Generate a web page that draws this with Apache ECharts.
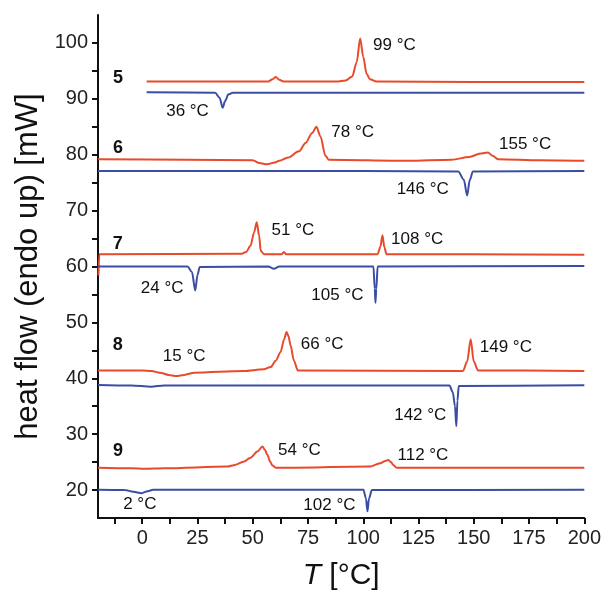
<!DOCTYPE html>
<html>
<head>
<meta charset="utf-8">
<script src="https://cdn.jsdelivr.net/npm/echarts@6/dist/echarts.min.js"></script>
<style>
  html, body { margin: 0; padding: 0; background: #fff; }
  #chart { width: 604px; height: 596px; }
</style>
</head>
<body>
<div id="chart"></div>
<script>
// DSC traces: [T in °C, heat flow in mW]
var red5 = [[2,93.1],[30,93.1],[57,93.1],[59,93.5],[60.4,93.9],[62,93.4],[64,93.1],[88,93.1],[92,93.3],[95,94],[97,96.5],[98.6,100.8],[100,97.5],[101.5,94.5],[103,93.5],[106,93.1],[150,93.0],[200,93.0]]
var blue5 = [[2,91.2],[33,91.1],[35,90.2],[36.4,88.4],[37.5,89.6],[39,90.8],[41,91.1],[100,91.1],[200,91.1]]

var red6 = [[-20,79.2],[20,79.1],[50,79.0],[53,78.5],[56.5,78.3],[60,78.6],[62,78.9],[66,79.5],[70.9,80.6],[73.9,82.1],[76.9,83.9],[78.8,85.0],[80.6,83.3],[82.9,79.8],[84.4,79.1],[120,78.9],[140,79.1],[148,79.6],[153,80.2],[156.4,80.4],[158.5,79.8],[161,79.2],[180,79.0],[200,78.9]]
var blue6 = [[-20,77.1],[100,77.1],[143,77.0],[145.5,75.5],[147,72.7],[148.2,75.5],[149.6,77.0],[200,77.1]]

var red7 = [[-19.8,58.4],[-19.4,62.2],[45,62.3],[47,62.6],[49,63.7],[50.6,66.1],[51.8,67.9],[52.9,65.5],[53.6,62.8],[55.1,62.2],[63,62.2],[64.1,62.6],[65,62.2],[106.5,62.2],[107.7,63.5],[108.7,65.6],[109.5,63.5],[110.5,62.2],[200,62.1]]
var blue7 = [[-20,60.0],[20.5,60.0],[22.5,59],[24,55.7],[25,58.5],[26,59.9],[57,60.0],[59.6,59.6],[62,60.0],[104.6,60.0],[105.2,56],[105.5,53.5],[105.9,56],[106.5,60.0],[200,60.1]]

var red8 = [[-20,41.4],[0,41.4],[4.2,41.3],[8,41.0],[12,40.6],[15.4,40.4],[19,40.6],[23.6,41.0],[46,41.3],[55,41.6],[58.1,42.0],[60.5,43.2],[62.6,44.7],[64.2,47],[65.3,48.3],[66.2,47.5],[67.1,45.9],[68.6,43.2],[70.4,41.4],[145.1,41.3],[147,43],[148.6,47.0],[150,43],[151.9,41.4],[200,41.3]]
var blue8 = [[-20,38.8],[-5,38.7],[4,38.5],[10,38.7],[139,38.7],[140.5,37.5],[141.5,35],[142.1,31.4],[142.6,36],[143.2,38.6],[200,38.75]]

var red9 = [[-20,24.0],[-5,23.9],[1,23.8],[10,23.9],[38.6,24.2],[42,24.5],[46.1,25.1],[49,25.8],[52.1,26.9],[54.4,27.8],[55.5,27.2],[56.6,26.3],[58,25.0],[58.9,24.4],[60.4,24.0],[103.1,24.2],[107.6,24.8],[110,25.2],[111.4,25.4],[112.5,25.0],[113.6,24.5],[115.1,24.0],[200,24.0]]
var blue9 = [[-20,20.05],[-7.9,20.0],[-4,19.7],[-0.3,19.45],[2.5,19.8],[4.9,20.05],[100.1,20.05],[101.2,18.5],[101.9,16.2],[102.6,18.5],[103.9,20.0],[200,20.05]]

// sample numbers and peak temperatures, anchored at their centres
var sampleNames = ['5', '6', '7', '8', '9']
var sampleAt = [[-10.9,93.7],[-10.9,81.2],[-11.1,64.0],[-11.1,45.9],[-10.9,26.9]]
var peakNames = ['99 °C','36 °C','78 °C','155 °C','146 °C','51 °C','108 °C','24 °C','105 °C','15 °C','66 °C','149 °C','142 °C','54 °C','112 °C','2 °C','102 °C']
var peakAt = [[114.1,99.65],[20.5,87.8],[95.2,84.0],[173.2,81.8],[126.9,73.9],[68.2,66.5],[124.4,64.9],[9.0,56.1],[88.3,54.9],[19.0,44.0],[81.4,46.0],[164.5,45.6],[125.8,33.4],[71.1,27.2],[127.0,26.3],[-1.1,17.5],[84.7,17.3]]

var xTicks = [-12.5, 0, 12.5, 25, 37.5, 50, 62.5, 75, 87.5, 100, 112.5, 125, 137.5, 150, 162.5, 175, 187.5, 200]
var xLabels = [0, 25, 50, 75, 100, 125, 150, 175, 200]
var yTicks = [20, 25, 30, 35, 40, 45, 50, 55, 60, 65, 70, 75, 80, 85, 90, 95, 100]
var yLabels = [20, 30, 40, 50, 60, 70, 80, 90, 100]

var RED = '#e84a2c'
var BLUE = '#3c4ea4'
var FONT = 'Liberation Sans, Arial, sans-serif'

function trace(data, color) {
  return {
    type: 'line',
    data: data,
    showSymbol: false,
    symbol: 'none',
    smooth: 0.3,
    smoothMonotone: 'x',
    lineStyle: { color: color, width: 2 },
    itemStyle: { color: color },
    z: 2
  }
}

function textLayer(names, at, weight, size) {
  return {
    type: 'scatter',
    symbolSize: 0,
    itemStyle: { opacity: 1 },
    data: names.map(function (n, i) { return { name: n, value: at[i] } }),
    label: {
      show: true,
      position: 'inside',
      formatter: '{b}',
      color: '#111',
      opacity: 1,
      fontFamily: FONT,
      fontSize: size,
      fontWeight: weight
    },
    z: 3
  }
}

var chart = echarts.init(document.getElementById('chart'))
chart.setOption({
  animation: false,
  backgroundColor: '#fff',
  grid: { left: 98, right: 17, top: 15, bottom: 76, containLabel: false },
  xAxis: {
    type: 'value',
    min: -20,
    max: 200,
    name: '{i|T} [°C]',
    nameLocation: 'middle',
    nameGap: 43,
    nameTextStyle: {
      fontFamily: FONT, fontSize: 30, color: '#111',
      rich: { i: { fontStyle: 'italic', fontFamily: FONT, fontSize: 30, color: '#111' } }
    },
    axisLine: { show: true, onZero: false, lineStyle: { color: '#111', width: 2 } },
    axisTick: { show: true, customValues: xTicks, length: 6, lineStyle: { color: '#111', width: 2 } },
    axisLabel: { customValues: xLabels, margin: 10, fontFamily: FONT, fontSize: 20, color: '#222' },
    splitLine: { show: false }
  },
  yAxis: {
    type: 'value',
    min: 15,
    max: 105,
    name: 'heat flow (endo up) [mW]',
    nameLocation: 'middle',
    nameGap: 54,
    nameTextStyle: { fontFamily: FONT, fontSize: 31, color: '#111' },
    axisLine: { show: true, onZero: false, lineStyle: { color: '#111', width: 2 } },
    axisTick: { show: true, customValues: yTicks, length: 6, lineStyle: { color: '#111', width: 2 } },
    axisLabel: { customValues: yLabels, margin: 10, fontFamily: FONT, fontSize: 20, color: '#222' },
    splitLine: { show: false }
  },
  series: [
    trace(red5, RED), trace(blue5, BLUE),
    trace(red6, RED), trace(blue6, BLUE),
    trace(red7, RED), trace(blue7, BLUE),
    trace(red8, RED), trace(blue8, BLUE),
    trace(red9, RED), trace(blue9, BLUE),
    textLayer(sampleNames, sampleAt, 'bold', 18),
    textLayer(peakNames, peakAt, 'normal', 17)
  ]
})
</script>
</body>
</html>
